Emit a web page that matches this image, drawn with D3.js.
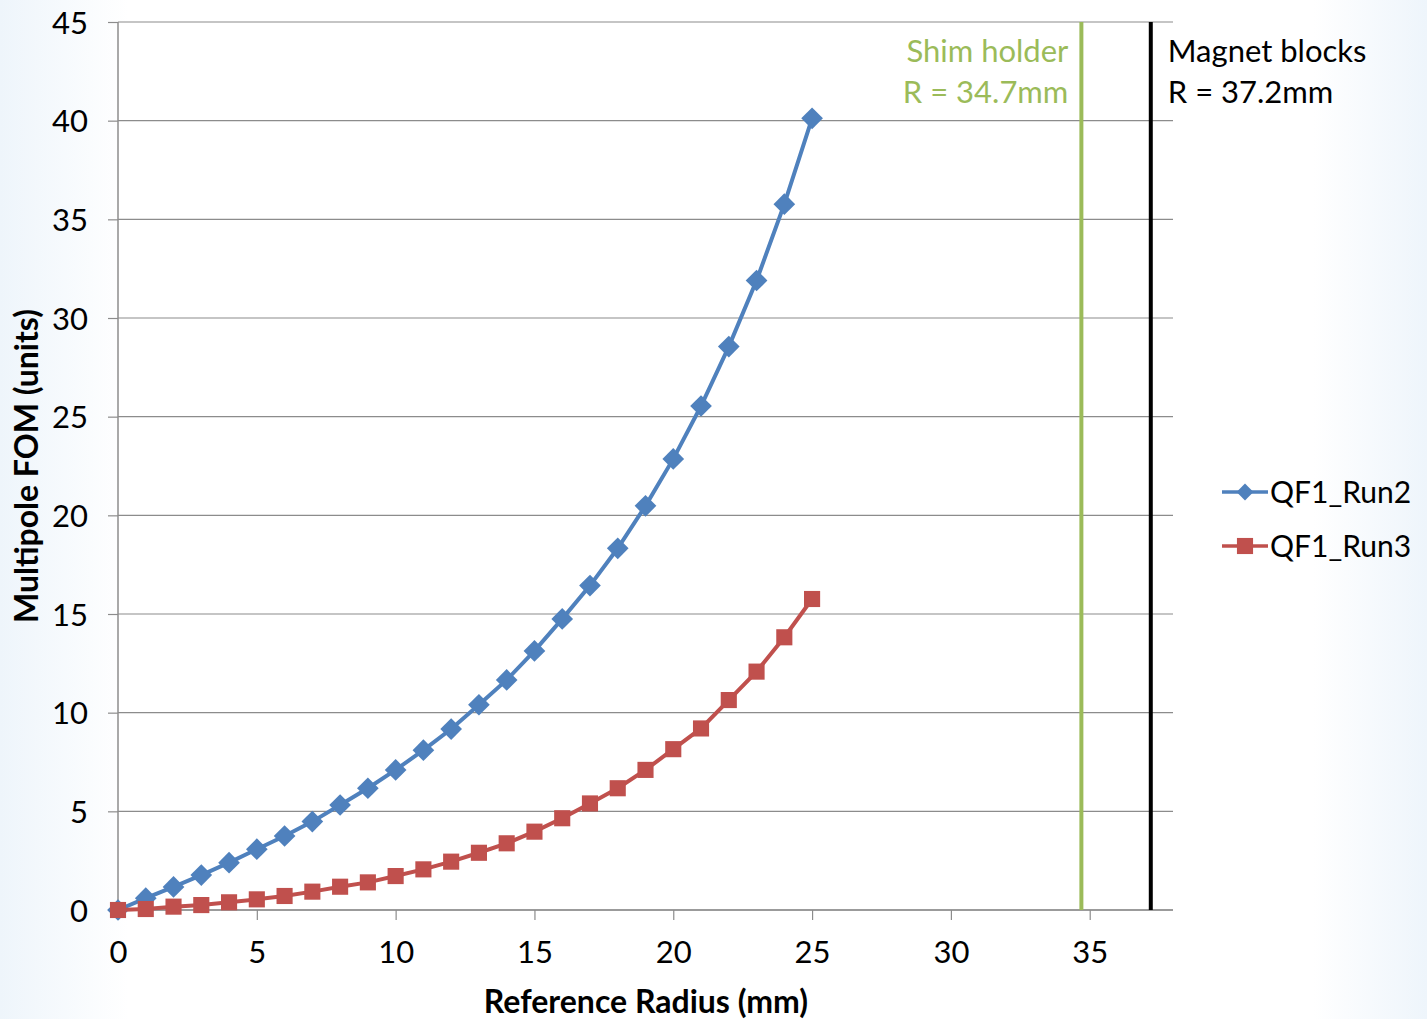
<!DOCTYPE html>
<html>
<head>
<meta charset="utf-8">
<script src="https://cdn.jsdelivr.net/npm/d3@7"></script>
<style>
  body { margin: 0; background: #fff; }
  text { font-family: Lato, "Open Sans", sans-serif; }
</style>
</head>
<body>
<div id="chart"></div>
<script>
// data
var radius = d3.range(0, 26);
var run2 = [0, 0.6, 1.17, 1.77, 2.4, 3.08, 3.75, 4.48, 5.32, 6.17, 7.1, 8.1, 9.17, 10.4, 11.66,
            13.13, 14.75, 16.44, 18.33, 20.48, 22.86, 25.54, 28.55, 31.9, 35.77, 40.12];
var run3 = [0, 0.05, 0.17, 0.25, 0.39, 0.54, 0.71, 0.93, 1.18, 1.4, 1.72, 2.06, 2.45, 2.9, 3.38,
            3.97, 4.65, 5.4, 6.17, 7.1, 8.15, 9.2, 10.64, 12.08, 13.82, 15.76];
var seriesNames = ['QF1_Run2', 'QF1_Run3'];
var xTicks = [0, 5, 10, 15, 20, 25, 30, 35];
var yTicks = [0, 5, 10, 15, 20, 25, 30, 35, 40, 45];
var markerLines = [
  {r: 34.7, label: ['Shim holder', 'R = 34.7mm'], color: '#9bbb59', side: 'left'},
  {r: 37.2, label: ['Magnet blocks', 'R = 37.2mm'], color: '#000000', side: 'right'}
];

var W = 1427, H = 1019;
var margin = {top: 22, right: 254, bottom: 109, left: 118},
    width = W - margin.left - margin.right,
    height = H - margin.top - margin.bottom;

var svg = d3.select('#chart').append('svg')
    .attr('width', W)
    .attr('height', H);

// faint edge shading like the slide background
var defs = svg.append('defs');
var grad = defs.append('linearGradient').attr('id', 'bg').attr('x1', '0').attr('x2', '1');
grad.append('stop').attr('offset', '0').attr('stop-color', '#eef5fb');
grad.append('stop').attr('offset', '0.09').attr('stop-color', '#ffffff');
grad.append('stop').attr('offset', '0.92').attr('stop-color', '#ffffff');
grad.append('stop').attr('offset', '1').attr('stop-color', '#eef5fb');
svg.append('rect').attr('width', W).attr('height', H).attr('fill', 'url(#bg)');
svg.append('rect').attr('x', margin.left).attr('y', margin.top)
    .attr('width', width).attr('height', height).attr('fill', '#fff');

var g = svg.append('g').attr('transform', 'translate(' + margin.left + ',' + margin.top + ')');

var x = d3.scaleLinear().domain([0, 38]).range([0, width]);
var y = d3.scaleLinear().domain([0, 45]).range([height, 0]);

// gridlines
g.selectAll('.grid')
    .data(yTicks)
    .enter().append('line')
    .attr('x1', 0).attr('x2', width)
    .attr('y1', function(d) { return y(d); })
    .attr('y2', function(d) { return y(d); })
    .attr('stroke', '#8c8c8c')
    .attr('stroke-width', 1.2);

// axes
var xAxis = g.append('g').attr('transform', 'translate(0,' + height + ')')
    .call(d3.axisBottom(x).tickValues(xTicks).tickSize(10).tickPadding(20));
var yAxis = g.append('g')
    .call(d3.axisLeft(y).tickValues(yTicks).tickSize(10).tickPadding(20));
[xAxis, yAxis].forEach(function(a) {
    a.select('.domain').attr('stroke', '#8c8c8c').attr('stroke-width', 1.5);
    a.selectAll('.tick line').attr('stroke', '#8c8c8c').attr('stroke-width', 1.2);
    a.selectAll('text').style('font-size', '31px').style('fill', '#000')
        .style('font-family', 'Lato, sans-serif');
});
xAxis.select('.domain').attr('d', 'M0,0H' + width);
yAxis.select('.domain').attr('d', 'M0,' + height + 'V0');
yAxis.selectAll('text').attr('dy', '0.36em');
xAxis.selectAll('text').attr('dy', '0.75em');

// vertical reference lines and labels
markerLines.forEach(function(m) {
    g.append('line')
        .attr('x1', x(m.r)).attr('x2', x(m.r))
        .attr('y1', y(45)).attr('y2', y(0))
        .attr('stroke', m.color).attr('stroke-width', 4);
    var t = g.append('text')
        .attr('text-anchor', m.side === 'left' ? 'end' : 'start')
        .style('font-size', '31px')
        .style('fill', m.color);
    m.label.forEach(function(s, i) {
        t.append('tspan')
            .attr('x', m.side === 'left' ? x(m.r) - 13 : x(m.r) + 17)
            .attr('y', 40 + i * 41)
            .text(s);
    });
});

var series = [
    {name: seriesNames[0], values: run2, color: '#4f81bd', shape: d3.symbolDiamond2, size: 300},
    {name: seriesNames[1], values: run3, color: '#c0504d', shape: d3.symbolSquare, size: 260}
];

var line = d3.line()
    .x(function(d) { return x(d[0]); })
    .y(function(d) { return y(d[1]); });

series.forEach(function(s) {
    var pts = radius.map(function(r, i) { return [r, s.values[i]]; });
    g.append('path')
        .datum(pts)
        .attr('fill', 'none')
        .attr('stroke', s.color)
        .attr('stroke-width', 4)
        .attr('d', line);
    g.selectAll('.pt-' + s.name)
        .data(pts)
        .enter().append('path')
        .attr('transform', function(d) { return 'translate(' + x(d[0]) + ',' + y(d[1]) + ')'; })
        .attr('d', d3.symbol().type(s.shape).size(s.size))
        .attr('fill', s.color);
});

// legend
var legend = svg.append('g').attr('transform', 'translate(1222,492)');
series.forEach(function(s, i) {
    var lg = legend.append('g').attr('transform', 'translate(0,' + (i * 54) + ')');
    lg.append('line').attr('x1', 0).attr('x2', 46).attr('y1', 0).attr('y2', 0)
        .attr('stroke', s.color).attr('stroke-width', 3.5);
    lg.append('path').attr('transform', 'translate(23,0)')
        .attr('d', d3.symbol().type(s.shape).size(s.size * (i === 0 ? 0.6 : 1.0)))
        .attr('fill', s.color);
    lg.append('text').attr('x', 48).attr('y', 0).attr('dy', '0.36em')
        .style('font-size', '30px').text(s.name);
});

// axis titles
svg.append('text')
    .attr('x', 646).attr('y', 1013)
    .attr('text-anchor', 'middle')
    .style('font-size', '32px').style('font-weight', 'bold')
    .text('Reference Radius (mm)');
svg.append('text')
    .attr('transform', 'translate(38,466) rotate(-90)')
    .attr('text-anchor', 'middle')
    .style('font-size', '32px').style('font-weight', 'bold')
    .text('Multipole FOM (units)');
</script>
</body>
</html>
